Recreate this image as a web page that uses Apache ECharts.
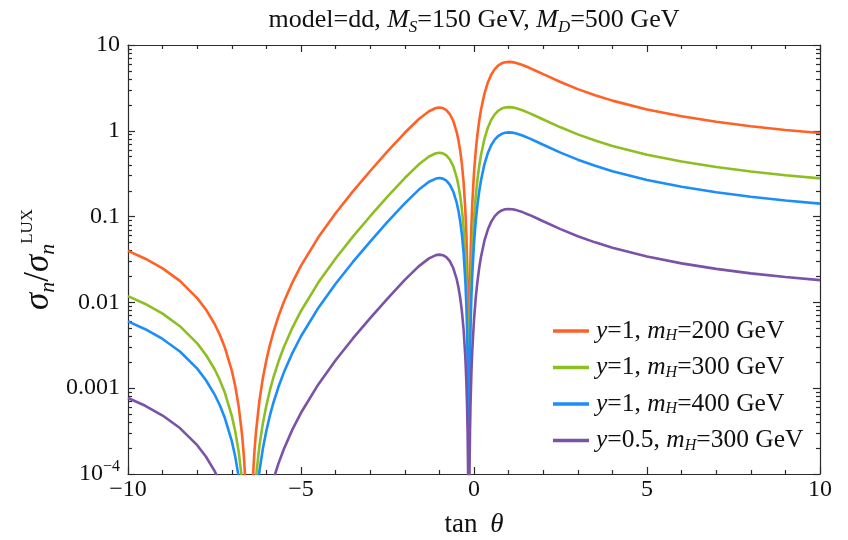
<!DOCTYPE html>
<html>
<head>
<meta charset="utf-8">
<script src="https://cdn.jsdelivr.net/npm/echarts@6/dist/echarts.min.js"></script>
<style>
html,body{margin:0;padding:0;background:#fff;}
#chart{width:848px;height:540px;}
</style>
</head>
<body>
<div id="chart"></div>
<script>
// ---- data ----
const tanTheta = [-10, -9.5, -9, -8.5, -8, -7.75, -7.5, -7.35, -7.2, -7, -6.9, -6.8, -6.7, -6.65, -6.6, -6.55, -6.45, -6.4, -6.35, -6.3, -6.2, -6.1, -6, -5.9, -5.8, -5.65, -5.5, -5.25, -5, -4.5, -4, -3.5, -3, -2.5, -2, -1.6, -1.3, -1.1, -1, -0.9, -0.8, -0.7, -0.6, -0.5, -0.45, -0.4, -0.35, -0.3, -0.25, -0.22, -0.2, -0.185, -0.17, -0.16, -0.14, -0.13, -0.115, -0.1, -0.075, -0.05, 0, 0.05, 0.1, 0.15, 0.2, 0.3, 0.4, 0.5, 0.6, 0.7, 0.8, 0.9, 1, 1.1, 1.2, 1.4, 1.6, 1.8, 2, 2.5, 3, 3.5, 4, 5, 6, 7, 8, 9, 10];

const sigmaMH200 = [0.0398, 0.0323, 0.0249, 0.0178, 0.01122, 0.00828, 0.00564, 0.00423, 0.00298, 0.001605, 0.001055, 0.00061, 0.000279, 0.000159, 7.16e-5, 1.82e-5, 1.87e-5, 7.59e-5, 0.000173, 0.000313, 0.000724, 0.001327, 0.002138, 0.003174, 0.00446, 0.0069, 0.01002, 0.01704, 0.0268, 0.0573, 0.1096, 0.1968, 0.340, 0.575, 0.948, 1.362, 1.690, 1.843, 1.869, 1.841, 1.746, 1.568, 1.303, 0.965, 0.779, 0.591, 0.411, 0.249, 0.1183, 0.0601, 0.0314, 0.01562, 0.00518, 0.001307, 0.001331, 0.00537, 0.01664, 0.0343, 0.0785, 0.1416, 0.325, 0.584, 0.913, 1.302, 1.739, 2.695, 3.66, 4.53, 5.24, 5.77, 6.12, 6.30, 6.36, 6.32, 6.21, 5.85, 5.42, 4.98, 4.57, 3.70, 3.06, 2.595, 2.247, 1.775, 1.476, 1.275, 1.130, 1.023, 0.941];

const sigmaMH300 = [0.01182, 0.00959, 0.00739, 0.00528, 0.00333, 0.002457, 0.001673, 0.001256, 0.000885, 0.000476, 0.000313, 0.000181, 8.27e-5, 4.72e-5, 2.13e-5, 5.39e-6, 5.55e-6, 2.25e-5, 5.14e-5, 9.28e-5, 0.000215, 0.000394, 0.000634, 0.000942, 0.001324, 0.002046, 0.002975, 0.00506, 0.00795, 0.01701, 0.0325, 0.0584, 0.1010, 0.1706, 0.2814, 0.404, 0.502, 0.547, 0.555, 0.546, 0.518, 0.465, 0.387, 0.2864, 0.2312, 0.1754, 0.1219, 0.0739, 0.0351, 0.01784, 0.00931, 0.004636, 0.001537, 0.000388, 0.000395, 0.001594, 0.00494, 0.01019, 0.0233, 0.0420, 0.0965, 0.1734, 0.2709, 0.3864, 0.516, 0.800, 1.086, 1.345, 1.556, 1.712, 1.815, 1.871, 1.888, 1.876, 1.842, 1.737, 1.609, 1.479, 1.356, 1.098, 0.909, 0.770, 0.667, 0.527, 0.438, 0.378, 0.3355, 0.3036, 0.2792];

const sigmaMH400 = [0.0060, 0.00487, 0.00375, 0.002677, 0.00169, 0.001247, 0.000849, 0.000637, 0.000449, 0.0002416, 0.0001589, 9.19e-5, 4.2e-5, 2.39e-5, 1.08e-5, 2.74e-6, 2.82e-6, 1.14e-5, 2.61e-5, 4.71e-5, 0.0001091, 0.0001998, 0.000322, 0.000478, 0.000672, 0.001038, 0.00151, 0.002566, 0.00403, 0.00863, 0.01651, 0.0296, 0.0512, 0.0866, 0.1428, 0.2051, 0.2545, 0.2775, 0.2814, 0.2773, 0.2629, 0.2361, 0.1963, 0.1453, 0.1173, 0.0890, 0.0619, 0.0375, 0.01782, 0.00905, 0.004725, 0.002352, 0.00078, 0.0001968, 0.0002004, 0.000809, 0.002505, 0.00517, 0.01182, 0.02132, 0.0490, 0.0879, 0.1374, 0.1961, 0.2618, 0.406, 0.551, 0.682, 0.790, 0.869, 0.921, 0.949, 0.958, 0.952, 0.935, 0.881, 0.817, 0.750, 0.688, 0.557, 0.461, 0.391, 0.338, 0.2672, 0.2223, 0.1919, 0.1702, 0.1541, 0.1417];

const sigmaY05MH300 = [0.000769, 0.000624, 0.00048, 0.000343, 0.0002166, 0.0001598, 0.0001088, 8.17e-5, 5.76e-5, 3.1e-5, 2.04e-5, 1.18e-5, 5.4e-6, 3.1e-6, 1.4e-6, 3.5e-7, 3.6e-7, 1.5e-6, 3.3e-6, 6.0e-6, 1.4e-5, 2.56e-5, 4.13e-5, 6.13e-5, 8.61e-5, 0.0001331, 0.0001934, 0.000329, 0.000517, 0.001106, 0.002116, 0.0038, 0.00657, 0.01109, 0.0183, 0.0263, 0.0326, 0.03556, 0.03606, 0.03553, 0.03369, 0.03025, 0.02515, 0.01863, 0.01504, 0.0114, 0.00793, 0.0048, 0.002284, 0.00116, 0.000605, 0.0003014, 0.0000999, 2.52e-5, 2.57e-5, 0.0001036, 0.000321, 0.000663, 0.001515, 0.002732, 0.00627, 0.01127, 0.01761, 0.02513, 0.03355, 0.052, 0.0706, 0.0874, 0.1012, 0.1113, 0.118, 0.1216, 0.1228, 0.122, 0.1198, 0.1129, 0.1046, 0.0962, 0.0882, 0.0714, 0.0591, 0.0501, 0.0434, 0.03425, 0.0285, 0.0246, 0.02181, 0.01974, 0.01816];

const seriesNames = ['y=1, m_H=200 GeV', 'y=1, m_H=300 GeV', 'y=1, m_H=400 GeV', 'y=0.5, m_H=300 GeV'];
const seriesColors = ['#FF6224', '#8DBF22', '#1C8EFA', '#7A52A6'];
const xTicks = [-10, -5, 0, 5, 10];
const yDecades = [-4, -3, -2, -1, 0, 1];

// ---- chart ----
const FONT = '"Liberation Serif", "Times New Roman", serif';
const TXT = '#111';
const allSeries = [sigmaMH200, sigmaMH300, sigmaMH400, sigmaY05MH300];

function legendRich(name) {
  const m = name.match(/^y=([\d.]+), m_H=(\d+) GeV$/);
  return '{i|y}{r|=' + m[1] + ', }{i|m}{sub|H}{r|=' + m[2] + ' GeV}';
}

function richSet(size, subSize, lh, supSize) {
  return {
    r: {fontFamily: FONT, fontSize: size, fontWeight: 'normal', color: TXT, lineHeight: lh},
    i: {fontFamily: FONT, fontSize: size, fontWeight: 'normal', fontStyle: 'italic', color: TXT, lineHeight: lh},
    s: {fontFamily: FONT, fontSize: size * 1.9, fontWeight: 'normal', color: TXT, lineHeight: lh},
    sub: {fontFamily: FONT, fontSize: subSize, fontWeight: 'normal', fontStyle: 'italic', color: TXT, verticalAlign: 'bottom', lineHeight: subSize + 1},
    sup: {fontFamily: FONT, fontSize: supSize || subSize, fontWeight: 'normal', color: TXT, verticalAlign: 'top', lineHeight: (supSize || subSize) + 1}
  };
}

const frameColor = '#2a2a2a';
const tickLine = {color: frameColor, width: 1.2};

function yAxisBase(position) {
  return {
    type: 'log', logBase: 10, position: position,
    min: Math.pow(10, yDecades[0]), max: Math.pow(10, yDecades[yDecades.length - 1]),
    axisLine: {show: true, onZero: false, lineStyle: tickLine},
    axisTick: {show: true, inside: true, length: 7, lineStyle: tickLine},
    minorTick: {show: true, splitNumber: 9, length: 4, lineStyle: tickLine},
    splitLine: {show: false},
    minorSplitLine: {show: false}
  };
}

const yLeft = yAxisBase('left');
yLeft.axisLabel = {
  fontFamily: FONT, fontSize: 24, color: TXT, margin: 8,
  formatter: v => {
    const e = Math.round(Math.log10(v));
    if (e <= -4) return '{b|10}{sup|\u2212' + Math.abs(e) + '}';
    if (e >= 0) return String(Math.pow(10, e));
    return '0.' + '0'.repeat(-e - 1) + '1';
  },
  rich: {
    b: {fontFamily: FONT, fontSize: 24, color: TXT, lineHeight: 30},
    sup: {fontFamily: FONT, fontSize: 16, color: TXT, verticalAlign: 'top', lineHeight: 17}
  }
};
yLeft.name = '{i|σ}{sub|n}{r|/}{i|σ}{sub|n}{sup|LUX}';
yLeft.nameLocation = 'middle';
yLeft.nameRotate = 90;
yLeft.nameGap = 69;
yLeft.nameMoveOverlap = false;
yLeft.nameTextStyle = {rich: richSet(35, 22, 40, 17)};

const yRight = yAxisBase('right');
yRight.axisLabel = {show: false};

const option = {
  animation: false,
  backgroundColor: '#ffffff',
  title: {
    text: '{r|model=dd, }{i|M}{sub|S}{r|=150 GeV, }{i|M}{sub|D}{r|=500 GeV}',
    left: 469,
    textAlign: 'center',
    top: 0,
    textStyle: {fontWeight: 'normal', rich: richSet(26, 17, 31)}
  },
  legend: {
    orient: 'vertical',
    left: 548,
    top: 313,
    itemGap: 10.5,
    itemWidth: 36,
    itemHeight: 3.5,
    icon: 'rect',
    data: seriesNames,
    formatter: legendRich,
    textStyle: {rich: richSet(25.5, 16, 26), padding: [0, 0, 0, 2]}
  },
  grid: {left: 128, right: 28, top: 45, bottom: 66, containLabel: false, outerBoundsMode: 'none'},
  xAxis: [
    {
      type: 'value', position: 'bottom', min: xTicks[0], max: xTicks[xTicks.length - 1], interval: 5,
      axisLine: {show: true, onZero: false, lineStyle: tickLine},
      axisTick: {show: true, inside: true, length: 7, lineStyle: tickLine},
      minorTick: {show: true, splitNumber: 5, length: 4, lineStyle: tickLine},
      splitLine: {show: false},
      axisLabel: {
        fontFamily: FONT, fontSize: 24, color: TXT, margin: 4,
        formatter: v => (v < 0 ? '\u2212' + Math.abs(v) : String(v))
      },
      name: '{r|tan}{s| }{i|θ}',
      nameLocation: 'middle',
      nameGap: 36,
      nameMoveOverlap: false,
      nameTextStyle: {rich: richSet(27, 17, 30)}
    },
    {
      type: 'value', position: 'top', min: xTicks[0], max: xTicks[xTicks.length - 1], interval: 5,
      axisLine: {show: true, onZero: false, lineStyle: tickLine},
      axisTick: {show: true, inside: true, length: 7, lineStyle: tickLine},
      minorTick: {show: true, splitNumber: 5, length: 4, lineStyle: tickLine},
      splitLine: {show: false},
      axisLabel: {show: false}
    }
  ],
  yAxis: [yLeft, yRight],
  series: allSeries.map((vals, k) => ({
    name: seriesNames[k],
    type: 'line',
    xAxisIndex: 0,
    yAxisIndex: 0,
    showSymbol: false,
    symbol: 'none',
    clip: true,
    smooth: false,
    color: seriesColors[k],
    lineStyle: {width: 2.6, color: seriesColors[k]},
    data: tanTheta.map((t, i) => [t, vals[i]])
  }))
};

const chart = echarts.init(document.getElementById('chart'), null, {renderer: 'canvas'});
chart.setOption(option);
</script>
</body>
</html>
